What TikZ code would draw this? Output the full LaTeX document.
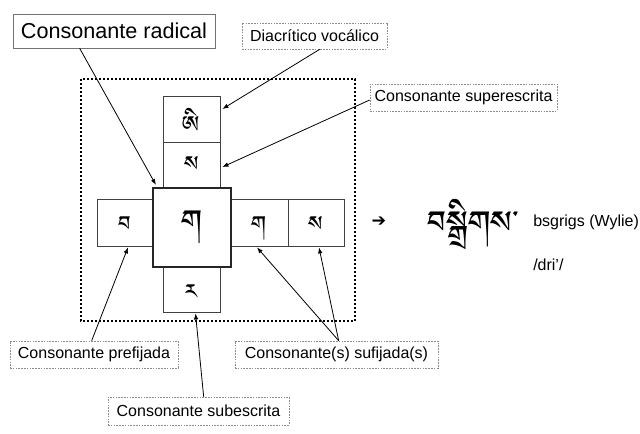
\documentclass[tikz,border=0pt]{standalone}
\usepackage{fontspec}
\setmainfont{Liberation Sans}
\newfontfamily\symfont{DejaVu Sans}
\IfFontExistsTF{Jomolhari}{\newfontfamily\tibfont[Script=Tibetan]{Jomolhari}}{%
  \newfontfamily\tibfont{DejaVu Sans}}
\newcommand\tibg[2]{\smash{\raisebox{#1}{#2}}}
\usetikzlibrary{arrows.meta,calc}
\begin{document}
\begin{tikzpicture}[x=0.75pt,y=-0.75pt,
  lbl/.style={draw=black!45, dash pattern=on 1.2pt off 0.9pt, line width=0.5pt, inner sep=0pt,
    font=\fontsize{12}{14}\selectfont, fill=white},
  cell/.style={draw=black!75, line width=0.6pt, inner sep=0pt, font=\tibfont\fontsize{20}{20}\selectfont},
  conn/.style={line width=0.6pt, -{Latex[length=4.5pt,width=3.4pt]}}
]
\useasboundingbox (0,0) rectangle (640,433);
\fill[white] (0,0) rectangle (640,433);

% dotted frame
\draw[line width=2.2pt, dash pattern=on 1.5pt off 1.5pt] (81,79) rectangle (355,321);

% cells
\node[cell, minimum width=42.75pt, minimum height=34.5pt] (vow) at (191.5,119) {\tibg{-13pt}{ཨི}};
\node[cell, minimum width=42.75pt, minimum height=34.5pt] (supc) at (191.5,165) {\tibg{-8.5pt}{ས}};
\node[cell, minimum width=42pt, minimum height=35.25pt] (prec) at (125,222.5) {\tibg{-10.4pt}{བ}};
\node[cell, minimum width=42.75pt, minimum height=35.25pt] (suf1) at (259.5,222.5) {\tibg{-10.4pt}{ག}};
\node[cell, minimum width=42pt, minimum height=35.25pt] (suf2) at (316,222.5) {\tibg{-10.4pt}{ས}};
\node[cell, minimum width=42.75pt, minimum height=33.75pt] (subc) at (191.5,289.5) {\tibg{-11.1pt}{ར}};
\node[cell, draw=black!85, line width=1.6pt, fill=white, minimum width=58.5pt, minimum height=59.25pt,
  font=\tibfont\fontsize{28}{28}\selectfont] (root) at (192,227.5) {\tibg{-7.9pt}{ག}};

% labels
\node[draw=black!55, line width=0.5pt, inner sep=0pt, minimum width=151.5pt, minimum height=25.5pt,
  font=\fontsize{16.2}{18}\selectfont] (rad) at (114,31) {Consonante radical};
\node[lbl, minimum width=108.75pt, minimum height=19.5pt] (diac) at (314.5,36) {Diacrítico vocálico};
\node[lbl, minimum width=140.25pt, minimum height=20.25pt] (sup) at (463.5,97.5) {Consonante superescrita};
\node[lbl, minimum width=126pt, minimum height=20.25pt] (pre) at (94,354.5) {Consonante prefijada};
\node[lbl, minimum width=135.75pt, minimum height=21pt] (sub) at (198.5,411) {Consonante subescrita};
\node[lbl, minimum width=152.25pt, minimum height=20.25pt] (suf) at (336.5,354.5) {Consonante(s) sufijada(s)};

% connectors
\draw[conn] ($(rad.south west)+(67,0)$) -- ($(root.north west)+(4,-2)$);
\draw[conn] ($(diac.south west)+(78,0)$) -- ($(vow.east)+(2,-10)$);
\draw[conn] ($(sup.west)+(0,2.5)$) -- ($(supc.east)+(2,2)$);
\draw[conn] ($(pre.north west)+(82,0)$) -- ($(prec.south)+(3,1)$);
\draw[conn] ($(suf.north west)+(104,0)$) -- ($(suf1.south)+(-2.5,1)$);
\draw[conn] ($(suf.north west)+(104,0)$) -- ($(suf2.south)+(3,1)$);
\draw[conn] ($(sub.north west)+(96,0)$) -- ($(subc.south)+(4,1)$);

% result
\node[inner sep=0pt, font=\symfont\bfseries\fontsize{13}{13}\selectfont] (arr) at (379,222) {➔};
\node[inner sep=0pt, anchor=base west, font=\tibfont\fontsize{30}{30}\selectfont] (word) at (427,241) {བསྒྲིགས་};
\node[inner sep=0pt, anchor=west, font=\fontsize{12}{14}\selectfont] (wylie) at (533,222) {bsgrigs (Wylie)};
\node[inner sep=0pt, anchor=west, font=\fontsize{12}{14}\selectfont] (ipa) at (533,265) {/dri’/};
\end{tikzpicture}
\end{document}
